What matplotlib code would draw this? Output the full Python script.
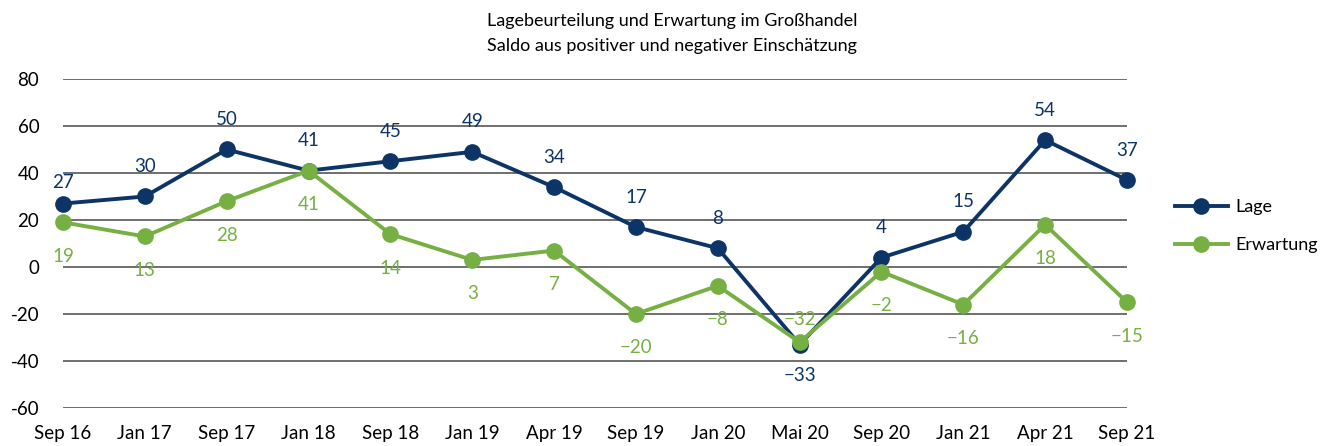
import matplotlib
matplotlib.use("Agg")
import matplotlib.pyplot as plt

categories = ["Sep 16", "Jan 17", "Sep 17", "Jan 18", "Sep 18", "Jan 19", "Apr 19",
              "Sep 19", "Jan 20", "Mai 20", "Sep 20", "Jan 21", "Apr 21", "Sep 21"]
lage = [27, 30, 50, 41, 45, 49, 34, 17, 8, -33, 4, 15, 54, 37]
erwartung = [19, 13, 28, 41, 14, 3, 7, -20, -8, -32, -2, -16, 18, -15]
yticks = [-60, -40, -20, 0, 20, 40, 60, 80]

plt.rcParams['font.family'] = ["Lato", "DejaVu Sans"]

navy = "#0d3466"
green = "#76b043"

fig = plt.figure(figsize=(13.25, 4.46), dpi=100)
ax = fig.add_axes([0.0475, 0.0852, 0.8031, 0.7377])
x = list(range(len(categories)))
ax.plot(x, lage, color=navy, lw=2.8, marker="o", ms=11, label="Lage", zorder=4)
ax.plot(x, erwartung, color=green, lw=2.8, marker="o", ms=11, label="Erwartung", zorder=5)

for i, v in enumerate(lage):
    off = -31 if v < erwartung[i] else 30
    if i == 0:
        off = 21
    ax.annotate(str(v).replace("-", "−"), (i, v), xytext=(0, off), textcoords="offset pixels",
                ha="center", va="center", color=navy, fontsize=13.5)
for i, v in enumerate(erwartung):
    off = 23 if v > lage[i] else -34
    ax.annotate(str(v).replace("-", "−"), (i, v), xytext=(0, off), textcoords="offset pixels",
                ha="center", va="center", color=green, fontsize=13.5)

ax.set_xlim(0, len(categories) - 1)
ax.set_ylim(-60, 80)
ax.set_yticks(yticks)
ax.set_yticklabels([str(t) for t in yticks])
ax.set_xticks(x)
ax.set_xticklabels(categories)
ax.grid(axis="y", color="#6f6f6f", lw=1.4)
ax.set_axisbelow(True)
for s in ax.spines.values():
    s.set_visible(False)
ax.tick_params(axis="both", length=0, labelsize=13.5, colors="black")
ax.tick_params(axis="y", pad=17)
ax.tick_params(axis="x", pad=12)
for l in ax.lines:
    l.set_clip_on(False)

leg = fig.legend(loc="center left", bbox_to_anchor=(0.887, 0.493), frameon=False,
                 fontsize=13, handlelength=2.9, labelspacing=1.25, handletextpad=0.45,
                 borderpad=0, borderaxespad=0)

fig.text(0.507, 0.953, "Lagebeurteilung und Erwartung im Großhandel", ha="center", va="center", fontsize=13)
fig.text(0.507, 0.896, "Saldo aus positiver und negativer Einschätzung", ha="center", va="center", fontsize=13)

fig.savefig("out.png", dpi=100)
